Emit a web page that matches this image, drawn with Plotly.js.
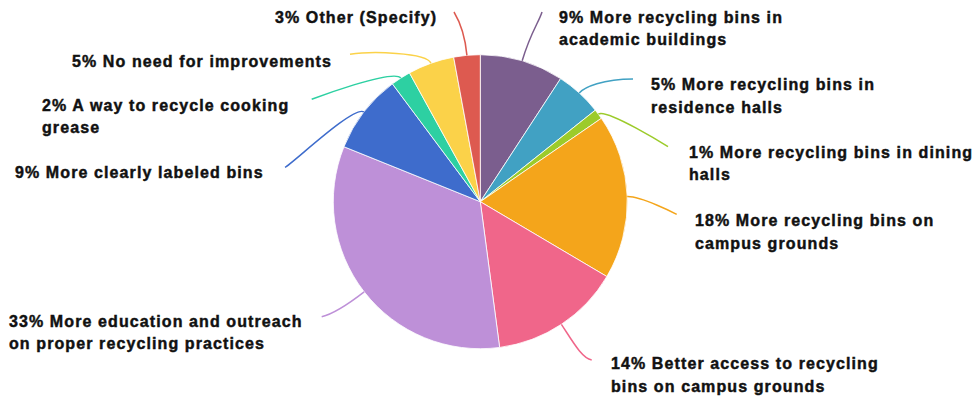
<!DOCTYPE html>
<html>
<head>
<meta charset="utf-8">
<script src="https://cdn.plot.ly/plotly-3.0.1.min.js"></script>
<style>
  html, body { margin: 0; padding: 0; background: #fff; }
  #chart { width: 976px; height: 401px; }
  text.annotation-text { letter-spacing: 1.1px; stroke: #111111; stroke-width: 0.45px; }
</style>
</head>
<body>
<div id="chart"></div>
<script>
// ---- data ----
const categories = [
  'More recycling bins in academic buildings',
  'More recycling bins in residence halls',
  'More recycling bins in dining halls',
  'More recycling bins on campus grounds',
  'Better access to recycling bins on campus grounds',
  'More education and outreach on proper recycling practices',
  'More clearly labeled bins',
  'A way to recycle cooking grease',
  'No need for improvements',
  'Other (Specify)'
];
const values = [9.2, 5.1, 1.1, 18.1, 14.4, 33.2, 8.7, 2.2, 5.1, 2.9];
const percentLabels = ['9%', '5%', '1%', '18%', '14%', '33%', '9%', '2%', '5%', '3%'];
const colors = ['#7b5e8e', '#41a1c3', '#9ccb2a', '#f4a51b', '#f0668a',
                '#be90d8', '#3e6ccc', '#2dd0a2', '#fbd249', '#dd5a50'];

// label text lines (wrapping as in the reference)
const labelLines = [
  ['9% More recycling bins in', 'academic buildings'],
  ['5% More recycling bins in', 'residence halls'],
  ['1% More recycling bins in dining', 'halls'],
  ['18% More recycling bins on', 'campus grounds'],
  ['14% Better access to recycling', 'bins on campus grounds'],
  ['33% More education and outreach', 'on proper recycling practices'],
  ['9% More clearly labeled bins'],
  ['2% A way to recycle cooking', 'grease'],
  ['5% No need for improvements'],
  ['3% Other (Specify)']
];

// ---- layout geometry (pixels) ----
const W = 976, H = 401;
const CX = 480.3, CY = 201.7, R = 147;
const LINE_GAP = 22.6;
// label left x, first baseline y; leader end point, radial handle length, end handle offset
const guides = [
  {x: 557, b: 22.7, end: [542, 12],    L: 30, h: [-3, 10]},
  {x: 649, b: 90.0, end: [633, 79],    L: 8,  h: [-30, 0]},
  {x: 687, b: 157.7, end: [668, 146.7], L: 10, h: [0, 0]},
  {x: 693, b: 226.0, end: [676.7, 214.3], L: 14, h: [0, 0]},
  {x: 609, b: 369.3, end: [591.7, 360], L: 20, h: [-10, -2]},
  {x: 7,   b: 326.7, end: [321.7, 316.7], L: 15, h: [12, -3]},
  {x: 13,  b: 177.7, end: [285, 167.3], L: 12, h: [8, -4]},
  {x: 40,  b: 110.7, end: [311.7, 99.3], L: 12, h: [0, 0]},
  {x: 70,  b: 66.7,  end: [350, 54.3],  L: 12, h: [20, -3]},
  {x: 273, b: 22.5,  end: [454, 12],    L: 22, h: [6, 10]}
];

const total = values.reduce((a, b) => a + b, 0);
const toPaper = p => (p[0] / W).toFixed(5) + ',' + (1 - p[1] / H).toFixed(5);
const shapes = [], annotations = [];
let cum = 0;
values.forEach((v, i) => {
  const mid = (cum + v / 2) / total * 2 * Math.PI;
  cum += v;
  const ux = Math.sin(mid), uy = -Math.cos(mid);
  const p0 = [CX + R * ux, CY + R * uy];
  const g = guides[i];
  const c1 = [p0[0] + g.L * ux, p0[1] + g.L * uy];
  const c2 = [g.end[0] + g.h[0], g.end[1] + g.h[1]];
  shapes.push({
    type: 'path', xref: 'paper', yref: 'paper',
    path: 'M' + toPaper(p0) + ' C' + toPaper(c1) + ' ' + toPaper(c2) + ' ' + toPaper(g.end),
    line: {color: colors[i], width: 1.5}
  });
  labelLines[i].forEach((t, k) => {
    const base = g.b + k * LINE_GAP;
    annotations.push({
      xref: 'paper', yref: 'paper',
      x: g.x / W, y: 1 - (base - 5.5) / H,
      xanchor: 'left', yanchor: 'middle', align: 'left',
      showarrow: false, text: t,
      font: {family: 'Liberation Sans', size: 16, color: '#111111', weight: 700}
    });
  });
});

const trace = {
  type: 'pie',
  labels: categories,
  values: values,
  text: percentLabels,
  sort: false,
  direction: 'clockwise',
  rotation: 0,
  textinfo: 'none',
  hoverinfo: 'skip',
  marker: {colors: colors, line: {color: '#ffffff', width: 0.8}},
  domain: {
    x: [(CX - R) / W, (CX + R) / W],
    y: [1 - (CY + R) / H, 1 - (CY - R) / H]
  }
};

const layout = {
  width: W, height: H,
  margin: {l: 0, r: 0, t: 0, b: 0},
  showlegend: false,
  paper_bgcolor: '#ffffff',
  plot_bgcolor: '#ffffff',
  shapes: shapes,
  annotations: annotations
};

Plotly.newPlot('chart', [trace], layout, {staticPlot: true, displayModeBar: false});
</script>
</body>
</html>
